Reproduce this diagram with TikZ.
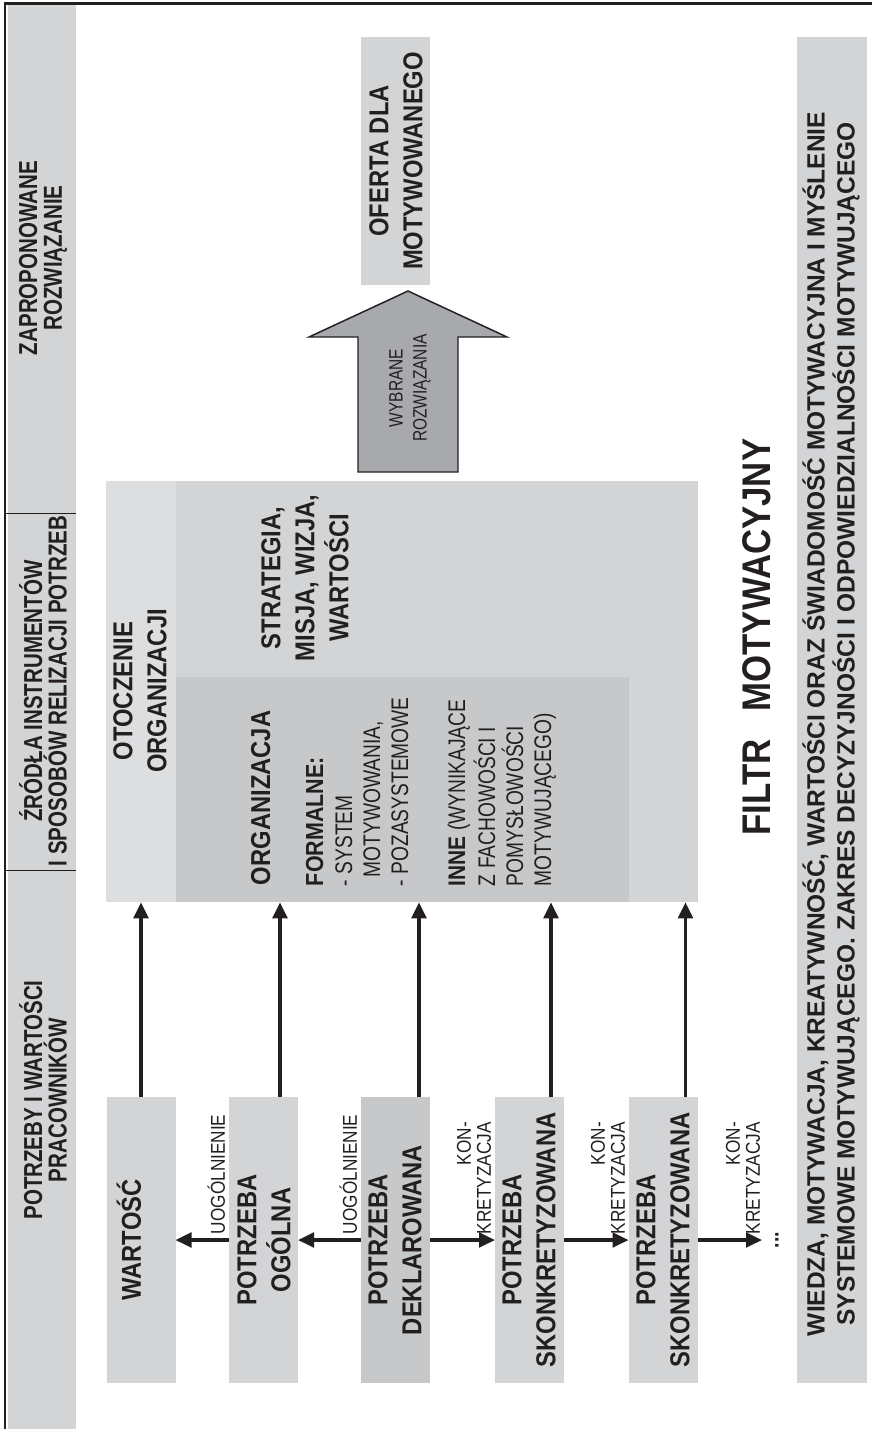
\documentclass[tikz,border=0pt]{standalone}
\usepackage{fontspec}
\setmainfont{Liberation Sans}
\newfontfamily\bxf[FakeStretch=0.87]{Liberation Sans}
\newfontfamily\rgf[FakeStretch=0.80]{Liberation Sans}
\newfontfamily\lbf[FakeStretch=0.86]{Liberation Sans}
\newfontfamily\hdf[FakeStretch=0.79]{Liberation Sans}
\newfontfamily\wdf[FakeStretch=0.98]{Liberation Sans}
\usetikzlibrary{arrows.meta,calc}
\definecolor{gmid}{HTML}{D3D4D6}
\definecolor{glight}{HTML}{DDDEE0}
\definecolor{gdark}{HTML}{C7C8CA}
\definecolor{garrow}{HTML}{A7A9AC}
\definecolor{ink}{HTML}{231F20}
\tikzset{
  box/.style={fill=gmid, inner sep=0pt, outer sep=0pt, minimum width=51.75pt, minimum height=214.5pt},
  tx/.style={rotate=90, inner sep=0pt, outer sep=0pt, align=center, text=ink},
  bt/.style={tx, font=\bxf\bfseries\fontsize{20.5pt}{25.5pt}\selectfont},
  rt/.style={tx, anchor=base west, font=\rgf\fontsize{18pt}{21pt}\selectfont},
  lt/.style={tx, align=right, anchor=south west, font=\lbf\fontsize{15pt}{15pt}\selectfont},
  ht/.style={tx, font=\hdf\bfseries\fontsize{19.5pt}{18.5pt}\selectfont},
  arr/.style={draw=ink, line width=2.3pt, -{Triangle[length=12pt,width=11pt]}}
}
\begin{document}
\begin{tikzpicture}[x=0.75pt,y=-0.75pt]
\useasboundingbox (0,0) rectangle (872,1429);
% left header strip
\fill[gmid] (8,5) rectangle (76,1429);
\draw[ink, line width=1.6pt] (5,1429) -- (5,3.5) -- (872,3.5);
\draw[ink, line width=0.6pt] (5,513) -- (76,513);
\draw[ink, line width=0.6pt] (5,870) -- (76,870);
\node[ht] (h1) at (43,258) {ZAPROPONOWANE\\ROZWIĄZANIE};
\node[ht] (h2) at (43,691) {ŹRÓDŁA INSTRUMENTÓW\\I SPOSOBÓW RELIZACJI POTRZEB};
\node[ht] (h3) at (43,1100) {POTRZEBY I WARTOŚCI\\PRACOWNIKÓW};

% regions
\node[fill=gmid, inner sep=0pt, minimum width=391.5pt, minimum height=315.75pt] (reg) at (437,691.5) {};
\node[fill=glight, inner sep=0pt, minimum width=52.5pt, minimum height=315.75pt] (otocz) at (141,691.5) {};
\node[fill=gdark, inner sep=0pt, minimum width=339.75pt, minimum height=168.75pt] (org) at (402.5,789.5) {};

\node[bt] (totocz) at (140,691) {OTOCZENIE\\ORGANIZACJI};
\node[bt] (tstrat) at (305,578) {STRATEGIA,\\MISJA, WIZJA,\\WARTOŚCI};
\node[tx, anchor=base west, font=\bxf\bfseries\fontsize{20.5pt}{25.5pt}\selectfont] (torg) at (270,885) {ORGANIZACJA};
\node[tx, anchor=base west, font=\bxf\bfseries\fontsize{18.5pt}{21pt}\selectfont] (tform) at (323,886) {FORMALNE:};
\node[rt] (l1) at (352,886) {- SYSTEM};
\node[rt] (l2) at (380,877) {MOTYWOWANIA,};
\node[rt] (l3) at (408,886) {- POZASYSTEMOWE};
\node[rt] (l4) at (465,886) {{\bxf\bfseries INNE} (WYNIKAJĄCE};
\node[rt] (l5) at (495,886) {Z FACHOWOŚCI I};
\node[rt] (l6) at (523,886) {POMYSŁOWOŚCI};
\node[rt] (l7) at (551,886) {MOTYWUJĄCEGO)};

% bottom boxes
\node[box] (wart) at (141,1240) {};
\node[box] (ogol) at (263.5,1240) {};
\node[box, fill=gdark] (dekl) at (395.5,1240) {};
\node[box] (sk1) at (529.5,1240) {};
\node[box] (sk2) at (663,1240) {};
\node[bt] (twart) at (129,1240) {WARTOŚĆ};
\node[bt] (togol) at (264,1240) {POTRZEBA\\OGÓLNA};
\node[bt] (tdekl) at (395,1240) {POTRZEBA\\DEKLAROWANA};
\node[bt] (tsk1) at (529,1240) {POTRZEBA\\SKONKRETYZOWANA};
\node[bt] (tsk2) at (663,1240) {POTRZEBA\\SKONKRETYZOWANA};

% right boxes
\node[fill=gmid, inner sep=0pt, minimum width=51.75pt, minimum height=186pt] (ofer) at (395.5,161) {};
\node[bt] (tofer) at (396,161) {OFERTA DLA\\MOTYWOWANEGO};
\node[fill=gmid, inner sep=0pt, minimum width=52.5pt, minimum height=1009.5pt] (wied) at (832,710) {};
\node[tx, font=\wdf\bfseries\fontsize{18.75pt}{22.5pt}\selectfont] (twied) at (831,724) {WIEDZA, MOTYWACJA, KREATYWNOŚĆ, WARTOŚCI ORAZ ŚWIADOMOŚĆ MOTYWACYJNA I MYŚLENIE\\SYSTEMOWE MOTYWUJĄCEGO. ZAKRES DECYZYJNOŚCI I ODPOWIEDZIALNOŚCI MOTYWUJĄCEGO};

% big arrow
\draw[fill=garrow, draw=ink, line width=1.1pt] (358,472) -- (358,337) -- (309,337) -- (408,291) -- (507,337) -- (458,337) -- (458,472) -- cycle;
\node[tx, font=\rgf\fontsize{14.5pt}{18pt}\selectfont] (twyb) at (410,388) {WYBRANE\\ROZWIĄZANIA};

% filter title
\node[tx, font=\bxf\bfseries\fontsize{30pt}{30pt}\selectfont] (filtr) at (757,637) {FILTR\hspace{0.7em}MOTYWACYJNY};

% vertical arrows
\draw[arr] (wart.north) -- (wart.north |- otocz.south);
\draw[arr] ($(ogol.north east)+(-18,0)$) coordinate (a2) -- (a2 |- org.south);
\draw[arr] ($(dekl.north east)+(-11,0)$) coordinate (a3) -- (a3 |- org.south);
\draw[arr] ($(sk1.north east)+(-13,0)$) coordinate (a4) -- (a4 |- org.south);
\draw[arr] ($(sk2.north east)+(-12,0)$) coordinate (a5) -- (a5 |- reg.south);

% horizontal arrows
\draw[arr] (ogol.west) -- (wart.east);
\draw[arr] (dekl.west) -- (ogol.east);
\draw[arr] (dekl.east) -- (sk1.west);
\draw[arr] (sk1.east) -- (sk2.west);
\coordinate (endk) at (762,1240);
\draw[arr] (sk2.east) -- (endk);
\node[tx, font=\bxf\bfseries\fontsize{17pt}{17pt}\selectfont] (dots) at (777,1240) {...};

% labels
\node[lt] (u1) at (225,1234) {UOGÓLNIENIE};
\node[lt] (u2) at (357,1234) {UOGÓLNIENIE};
\node[lt] (k1) at (491,1234) {KON-\\KRETYZACJA};
\node[lt] (k2) at (625,1234) {KON-\\KRETYZACJA};
\node[lt] (k3) at (760,1234) {KON-\\KRETYZACJA};
\end{tikzpicture}
\end{document}
